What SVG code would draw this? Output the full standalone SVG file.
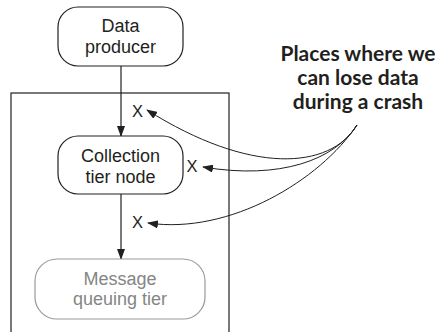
<svg xmlns="http://www.w3.org/2000/svg" width="436" height="332" viewBox="0 0 436 332">
<defs>
<style>
.box{fill:#fff;stroke:#231f20;stroke-width:1.2}
.gbox{fill:#fff;stroke:#9a9a9a;stroke-width:1.2}
.t{font-family:"Liberation Sans",Arial,sans-serif;font-size:18px;fill:#231f20;text-anchor:middle}
.g{fill:#858585}
.x{font-family:"Liberation Sans",Arial,sans-serif;font-size:16.5px;fill:#231f20;text-anchor:middle}
.note{font-family:Lato,"Open Sans",sans-serif;font-weight:bold;font-size:21px;fill:#231f20;text-anchor:middle}
.ln{fill:none;stroke:#231f20;stroke-width:1.2}
.cv{fill:none;stroke:#231f20;stroke-width:1}
</style>
<marker id="ah" markerWidth="11" markerHeight="8" refX="10" refY="4" orient="auto" markerUnits="userSpaceOnUse">
<path d="M0,0 L11,4 L0,8 Z" fill="#231f20"/>
</marker>
</defs>
<rect id="frame" x="11" y="93" width="218" height="260" fill="none" stroke="#231f20" stroke-width="1.2"/>
<g id="connectors">
<line class="ln" x1="121" y1="66" x2="121" y2="136" marker-end="url(#ah)"/>
<line class="ln" x1="121" y1="194" x2="121" y2="259" marker-end="url(#ah)"/>
<path class="cv" d="M357,125 C330,170 250,175 147,110" marker-end="url(#ah)"/>
<path class="cv" d="M357,125 C335,160 280,180 203,167" marker-end="url(#ah)"/>
<path class="cv" d="M357,125 C320,180 230,235 148,223" marker-end="url(#ah)"/>
</g>
<g id="data-producer">
<rect class="box" x="58" y="7" width="125" height="59" rx="20"/>
<text class="t" x="120.5" y="32">Data</text>
<text class="t" x="120.5" y="53">producer</text>
</g>
<g id="collection-tier-node">
<rect class="box" x="58" y="136" width="125" height="58" rx="20"/>
<text class="t" x="120.5" y="162">Collection</text>
<text class="t" x="120.5" y="183">tier node</text>
</g>
<g id="message-queuing-tier">
<rect class="gbox" x="35" y="259" width="170" height="60" rx="22"/>
<text class="t g" x="120" y="285">Message</text>
<text class="t g" x="120" y="305">queuing tier</text>
</g>
<g id="marks">
<text class="x" x="137.5" y="117">X</text>
<text class="x" x="192" y="172">X</text>
<text class="x" x="137.5" y="228">X</text>
</g>
<g id="note">
<text class="note" x="358" y="61">Places where we</text>
<text class="note" x="358" y="85">can lose data</text>
<text class="note" x="358" y="109">during a crash</text>
</g>
</svg>
